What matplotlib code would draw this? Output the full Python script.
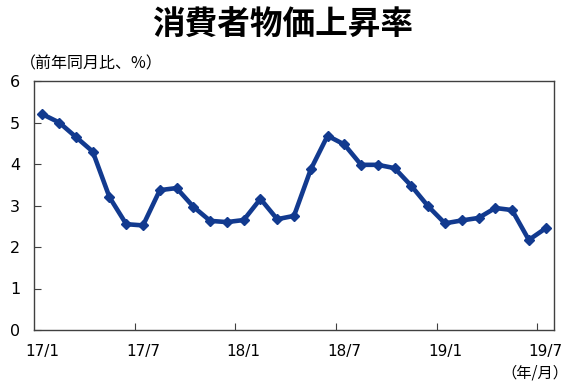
import matplotlib
matplotlib.use('Agg')
import matplotlib.pyplot as plt

# monthly CPI, 2017/1 - 2019/7 (yoy %)
values = [5.2, 5.0, 4.65, 4.3, 3.2, 2.55, 2.52, 3.37, 3.42, 2.97,
          2.63, 2.6, 2.65, 3.16, 2.67, 2.75, 3.87, 4.68, 4.47, 3.98,
          3.98, 3.9, 3.47, 2.98, 2.57, 2.64, 2.7, 2.94, 2.89, 2.17, 2.45]
tick_labels = ['17/1', '17/7', '18/1', '18/7', '19/1', '19/7']
yticks = [0, 1, 2, 3, 4, 5, 6]

jp = ['Noto Sans CJK JP', 'DejaVu Sans']
color = '#123a8f'

fig = plt.figure(figsize=(5.7, 3.86), dpi=100)
ax = fig.add_axes([34 / 570, 1 - 330 / 386, 520 / 570, 249 / 386])

x = list(range(len(values)))
ax.plot(x, values, color=color, linewidth=3.3, marker='D', markersize=5,
        markeredgecolor=color, markerfacecolor=color)

ax.set_xlim(-0.5, len(values) - 0.5)
ax.set_ylim(0, 6)
ax.set_yticks(yticks)
ax.set_yticklabels([str(v) for v in yticks], fontsize=11.5)

# ticks sit on the month boundaries, labels on the months themselves
ax.set_xticks([i * 6 - 0.5 for i in range(1, len(tick_labels))])
ax.set_xticklabels([])
ax.set_xticks([i * 6 for i in range(len(tick_labels))], minor=True)
ax.set_xticklabels(tick_labels, minor=True, fontsize=11)
ax.tick_params(axis='x', which='major', direction='in', length=5, color='#404040')
ax.tick_params(axis='x', which='minor', length=0, pad=10)
ax.tick_params(axis='y', direction='in', length=5, pad=10, color='#404040')

for s in ax.spines.values():
    s.set_color('#404040')
    s.set_linewidth(1)

fig.text(0.495, 0.935, '消費者物価上昇率', family=jp, fontsize=23.5,
         fontweight='bold', ha='center', va='center')
fig.text(20 / 570, 1 - 64 / 386, '（前年同月比、%）', family=jp, fontsize=11.5,
         ha='left', va='center')
fig.text(0.998, 1 - 373 / 386, '（年/月）', family=jp, fontsize=11,
         ha='right', va='center')

fig.savefig('out.png', dpi=100)
